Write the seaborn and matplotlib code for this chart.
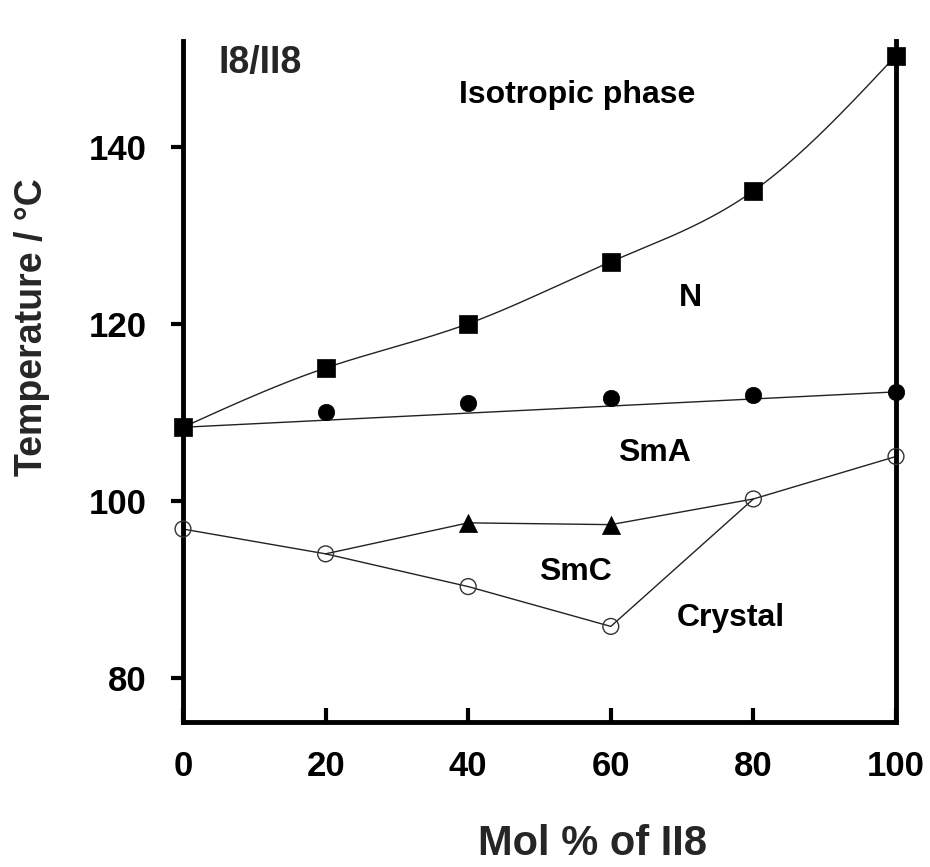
import numpy as np
import pandas as pd
import matplotlib
matplotlib.use("Agg")
import matplotlib.pyplot as plt
import seaborn as sns

# Phase diagram of the I8/II8 binary mixture
mol = [0, 20, 40, 60, 80, 100]

# Isotropic -> N transition (filled squares)
t_iso = [108.3, 115.0, 120.0, 127.0, 135.0, 150.3]

# N -> SmA transition (filled circles) and its straight boundary
sma_x = [20, 40, 60, 80, 100]
t_sma = [110.0, 111.0, 111.6, 112.0, 112.3]
sma_line_x = [0, 100]
sma_line_y = [108.3, 112.3]

# SmA -> SmC transition (filled triangles) and its boundary
smc_x = [40, 60]
t_smc = [97.5, 97.3]
smc_line_x = [20, 40, 60, 80]
smc_line_y = [94.0, 97.5, 97.3, 100.2]

# Melting points (open circles)
t_melt = [96.8, 94.0, 90.3, 85.8, 100.2, 105.0]

x_ticks = [0, 20, 40, 60, 80, 100]
y_ticks = [80, 100, 120, 140]


def natural_spline(x, y, xs):
    x = np.asarray(x, float)
    y = np.asarray(y, float)
    n = len(x)
    h = np.diff(x)
    A = np.zeros((n, n))
    b = np.zeros(n)
    A[0, 0] = A[-1, -1] = 1.0
    for i in range(1, n - 1):
        A[i, i - 1] = h[i - 1]
        A[i, i] = 2 * (h[i - 1] + h[i])
        A[i, i + 1] = h[i]
        b[i] = 6 * ((y[i + 1] - y[i]) / h[i] - (y[i] - y[i - 1]) / h[i - 1])
    m = np.linalg.solve(A, b)
    out = np.empty_like(xs, dtype=float)
    for k, xv in enumerate(xs):
        i = min(np.searchsorted(x, xv, side="right") - 1, n - 2)
        i = max(i, 0)
        t0 = x[i + 1] - xv
        t1 = xv - x[i]
        out[k] = (m[i] * t0 ** 3 / (6 * h[i]) + m[i + 1] * t1 ** 3 / (6 * h[i])
                  + (y[i] / h[i] - m[i] * h[i] / 6) * t0
                  + (y[i + 1] / h[i] - m[i + 1] * h[i] / 6) * t1)
    return out


sns.set_style("ticks")
plt.rcParams["font.family"] = ["Liberation Sans", "DejaVu Sans"]
plt.rcParams["font.weight"] = "bold"

fig = plt.figure(figsize=(9.3, 8.67), dpi=100)
ax = fig.add_axes([183 / 930, 1 - 722 / 867, (896 - 183) / 930, 681.5 / 867])

line_kw = dict(color="#222222", linewidth=1.0, zorder=2)

# smooth isotropic boundary
xs = np.linspace(0, 100, 200)
curve = pd.DataFrame({"x": xs, "y": natural_spline(mol, t_iso, xs)})
sns.lineplot(data=curve, x="x", y="y", ax=ax, **line_kw)
sns.lineplot(x=sma_line_x, y=sma_line_y, ax=ax, **line_kw)
sns.lineplot(x=smc_line_x, y=smc_line_y, ax=ax, **line_kw)
sns.lineplot(x=mol, y=t_melt, ax=ax, sort=False, **line_kw)

sns.scatterplot(x=mol, y=t_iso, marker="s", s=175, color="black",
                edgecolor="black", linewidth=0.5, clip_on=False, zorder=4, ax=ax)
sns.scatterplot(x=sma_x, y=t_sma, marker="o", s=140, color="black",
                edgecolor="black", linewidth=0.5, clip_on=False, zorder=4, ax=ax)
sns.scatterplot(x=smc_x, y=t_smc, marker="^", s=170, color="black",
                edgecolor="black", linewidth=0.5, clip_on=False, zorder=4, ax=ax)
sns.scatterplot(x=mol, y=t_melt, marker="o", s=130, facecolor="none",
                edgecolor="#333333", linewidth=1.0, clip_on=False, zorder=4, ax=ax)

ax.set_xlim(0, 100)
ax.set_ylim(75, 152)
ax.set_xticks(x_ticks)
ax.set_yticks(y_ticks)
ax.set_xticklabels([str(v) for v in x_ticks])
ax.set_yticklabels([str(v) for v in y_ticks])

for side in ("left", "bottom", "right"):
    ax.spines[side].set_linewidth(3.5)
    ax.spines[side].set_color("black")
ax.spines["top"].set_visible(False)

ax.tick_params(axis="x", direction="in", length=10, width=3, pad=20,
               labelsize=25, colors="black")
ax.tick_params(axis="y", direction="out", length=9, width=3, pad=17,
               labelsize=25, colors="black")
for lab in ax.get_xticklabels() + ax.get_yticklabels():
    lab.set_fontweight("bold")

ax.set_xlabel("Mol % of II8", fontsize=30, fontweight="bold")
ax.xaxis.label.set_va("baseline")
ax.xaxis.set_label_coords(0.574, -(855 - 722) / 681.5)
ax.set_ylabel("Temperature / °C", fontsize=27, fontweight="bold")
ax.yaxis.set_label_coords(-0.187, 0.58)

txt = dict(fontsize=23, fontweight="bold", color="black", ha="center", va="center")
ax.text(5.0, 149.5, "I8/II8", fontsize=27, fontweight="bold", ha="left", va="center")
ax.text(55.3, 145.8, "Isotropic phase", **txt)
ax.text(71.1, 122.9, "N", **txt)
ax.text(66.1, 105.4, "SmA", **txt)
ax.text(55.0, 91.9, "SmC", **txt)
ax.text(76.9, 86.7, "Crystal", **txt)

fig.savefig("out.png", dpi=100, facecolor="white")
